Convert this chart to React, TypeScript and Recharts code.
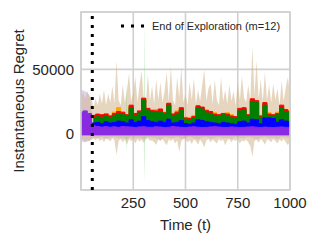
import { ComposedChart, Area, XAxis, YAxis, CartesianGrid, ReferenceLine, ReferenceArea } from 'recharts';

// time grid (coarse) used by the mean curves
const T20 = [0, 20, 40, 60, 80, 100, 120, 140, 160, 180, 200, 220, 240, 260, 280, 300, 320, 340, 360, 380, 400, 420, 440, 460, 480, 500, 520, 540, 560, 580, 600, 620, 640, 660, 680, 700, 720, 740, 760, 780, 800, 820, 840, 860, 880, 900, 920, 940, 960, 980, 1000];

// fine grid used by the noisy runs
const T10 = [0, 10, 20, 30, 40, 50, 60, 70, 80, 90, 100, 110, 120, 130, 140, 150, 160, 170, 180, 190, 200, 210, 220, 230, 240, 250, 260, 270, 280, 290, 300, 310, 320, 330, 340, 350, 360, 370, 380, 390, 400, 410, 420, 430, 440, 450, 460, 470, 480, 490, 500, 510, 520, 530, 540, 550, 560, 570, 580, 590, 600, 610, 620, 630, 640, 650, 660, 670, 680, 690, 700, 710, 720, 730, 740, 750, 760, 770, 780, 790, 800, 810, 820, 830, 840, 850, 860, 870, 880, 890, 900, 910, 920, 930, 940, 950, 960, 970, 980, 990, 1000];

const ORANGE = [null, null, null, 13000, 14000, 13500, 15500, 14000, 16500, 20000, 15500, 14000, 21000, 15000, 16500, 27000, 18500, 17500, 18500, 17500, 16500, 22500, 15500, 17500, 19000, 12500, 12500, 14000, 20500, 19500, 17000, 16500, 16000, 14000, 15000, 16000, 14500, 12500, 18000, 19000, 14000, 26000, 24500, 14000, 23000, 16000, 14000, 16500, 21000, 18000, 18000];
const RED = [null, null, null, 14000, 15000, 14500, 15000, 13500, 15500, 17000, 16500, 14500, 22000, 15500, 17500, 27500, 19500, 18000, 17500, 19000, 16000, 23500, 15000, 16500, 20000, 12000, 11500, 13000, 21500, 20500, 18000, 17000, 15000, 14500, 15500, 15000, 13500, 13000, 19500, 20000, 14500, 27000, 25500, 13500, 24000, 15000, 14500, 15500, 22000, 18500, 17000];
const GREEN = [null, null, null, 12000, 13000, 12500, 13500, 12000, 14000, 15500, 14500, 13500, 20000, 14000, 16000, 26000, 18000, 17000, 16500, 17000, 15000, 22000, 14000, 14500, 18000, 11000, 10500, 12000, 20000, 19000, 16000, 15500, 14000, 13500, 14500, 14000, 12500, 12000, 17500, 18500, 13500, 25000, 24000, 12500, 22000, 14000, 13500, 14500, 20000, 17000, 16000];
const BLUE = [9000, 10000, 8000, 8000, 8500, 7500, 9000, 8000, 8500, 9500, 9000, 8000, 10500, 8500, 9500, 13000, 10000, 9000, 8500, 9500, 8500, 11000, 8000, 8500, 10000, 7500, 7000, 8000, 10500, 10000, 9000, 8500, 8000, 7500, 8500, 8000, 7500, 7000, 9000, 9500, 8000, 11000, 10500, 7500, 12000, 12000, 11500, 8500, 10500, 9500, 9000];
const PURPLE = [16500, 17500, 15500, 5800, 5200, 4800, 5100, 4700, 5000, 4600, 5200, 5000, 4800, 4500, 4900, 5100, 4700, 4600, 5000, 4800, 4500, 4700, 5200, 4900, 4600, 4400, 4800, 5000, 4700, 4500, 4600, 4900, 5100, 4800, 4600, 4500, 4900, 4700, 4400, 4600, 4800, 5000, 4700, 4500, 4800, 4600, 4400, 4700, 4900, 4600, 4500];
const PURPLE_LO = -1300;

const LAV_HI = [34000, 33000, 30000, 11000, 10000, 9500, 10500, 10000, 11000, 10500, 9500, 10000, 12000, 10500, 11000, 14000, 11500, 11000, 10500, 11000, 10000, 12500, 10000, 10500, 11500, 9500, 9000, 10000, 12000, 11500, 10500, 10000, 9500, 9000, 10000, 9500, 9000, 8500, 11000, 11500, 9500, 12500, 13000, 12000, 9500, 11000, 10500, 10000, 11000, 10000, 9500];
const LAV_LO = [-6500, -7000, -6000, -3500, -4000, -3000, -4500, -3500, -3000, -4000, -3500, -5000, -3000, -4000, -3500, -4500, -3000, -3500, -4000, -5500, -3000, -3500, -4000, -3000, -4500, -3500, -3000, -4000, -5000, -3500, -3000, -4500, -3500, -3000, -4000, -3500, -4500, -3000, -3500, -4000, -3000, -3500, -5000, -3500, -3000, -4000, -3500, -4500, -3000, -3500, -4000];

const TAN_HI = [
  30000, 32000, 27000, 33000, 29000, 28000, 20000, 27000, 22000, 31000,
  23000, 34000, 22000, 31000, 24000, 37000, 23000, 57000, 26000, 22000,
  38000, 24000, 34000, 47000, 25000, 32000, 44000, 24000, 38000, 49000,
  27000, 23000, 46000, 25000, 37000, 23000, 42000, 26000, 40000, 24000,
  33000, 48000, 25000, 52000, 26000, 22000, 44000, 28000, 52000, 24000,
  31000, 22000, 40000, 26000, 43000, 23000, 34000, 25000, 38000, 50000,
  25000, 35000, 39000, 23000, 42000, 26000, 22000, 44000, 25000, 34000,
  23000, 38000, 25000, 33000, 22000, 40000, 26000, 45000, 28000, 24000,
  38000, 26000, 68000, 30000, 57000, 27000, 42000, 25000, 48000, 26000,
  38000, 24000, 39000, 26000, 35000, 22000, 41000, 25000, 36000, 44000,
  30000,
];
const TAN_LO = [
  -6000, -5000, -7000, -5500, -6000, -5000, -4000, -5500, -3500, -6000,
  -4500, -7000, -4000, -5000, -6500, -4000, -5500, -17000, -6000, -4500,
  -7000, -5000, -9000, -4500, -6000, -5000, -8000, -4500, -6500, -5000,
  -7500, -5000, -4000, -6000, -5500, -7000, -9000, -5000, -6000, -4500,
  -7000, -9500, -5000, -6000, -4500, -8000, -5500, -14500, -6000, -4500,
  -5000, -7000, -5500, -8500, -5000, -6000, -9000, -5000, -7500, -11000,
  -5500, -4500, -7000, -5000, -6500, -8000, -4500, -6000, -5000, -9500,
  -5500, -4500, -7000, -5000, -6000, -4500, -8000, -5500, -6500, -5000,
  -7000, -10000, -18500, -6000, -5000, -7500, -4500, -6000, -9000, -5000,
  -5500, -7000, -4500, -6000, -8000, -5000, -6500, -4500, -7000, -9500,
  -6000,
];

// faint green std band with two outliers
const GSPIKE_T = [215, 218, 221, 300, 303, 306];
const GSPIKE_HI = [12000, 39000, 12000, 12000, 89000, 12000];
const GSPIKE_LO = [3000, -15000, 3000, 3000, -39000, 3000];

const EXPLORATION_END = 54;
const X_TICKS = [250, 500, 750, 1000];
const Y_TICKS = [0, 50000];
const Y_DOMAIN: [number, number] = [-44500, 95000];

const rows = T10.map((t, j) => {
  const i = j / 2;
  const row: Record<string, any> = { t, tan: [TAN_LO[j], TAN_HI[j]] };
  if (j % 2 === 0) {
    row.orange = ORANGE[i];
    row.red = RED[i];
    row.green = GREEN[i];
    row.blue = BLUE[i];
    row.purple = [PURPLE_LO, PURPLE[i]];
    row.lav = [LAV_LO[i], LAV_HI[i]];
  }
  return row;
});
const greenBand = GSPIKE_T.map((t, i) => ({ t, band: [GSPIKE_LO[i], GSPIKE_HI[i]] }));

const FONT = 'Liberation Sans, Arial, sans-serif';
const INK = '#262626';
const GRID = '#d0d0d0';

export default function App() {
  return (
    <div style={{ position: 'absolute', left: 0, top: 0, width: 319, height: 243, fontFamily: FONT }}>
      <ComposedChart width={319} height={243} data={rows} margin={{ top: 12, right: 29, left: 0, bottom: 0 }}>
        <CartesianGrid stroke={GRID} strokeWidth={1.6} />
        <XAxis
          dataKey="t"
          type="number"
          domain={[0, 1000]}
          ticks={X_TICKS}
          allowDataOverflow
          axisLine={false}
          tickLine={false}
          tickSize={0}
          tickMargin={7}
          height={53}
          tick={{ fill: INK, fontSize: 15, fontFamily: FONT }}
          label={{ value: 'Time (t)', position: 'center', dy: 8, fill: INK, fontSize: 15, fontFamily: FONT }}
        />
        <YAxis
          type="number"
          domain={Y_DOMAIN}
          ticks={Y_TICKS}
          allowDataOverflow
          axisLine={false}
          tickLine={false}
          tickSize={0}
          tickMargin={7}
          width={81}
          tick={{ fill: INK, fontSize: 15, fontFamily: FONT }}
          label={{ value: 'Instantaneous Regret', angle: -90, position: 'center', dx: -22, fill: INK, fontSize: 15, fontFamily: FONT }}
        />
        <Area dataKey="lav" type="linear" connectNulls stroke="none" fill="#9370db" fillOpacity={0.3} isAnimationActive={false} />
        <Area dataKey="tan" type="linear" stroke="none" fill="#d2b48c" fillOpacity={0.55} isAnimationActive={false} />
        <Area data={greenBand} dataKey="band" type="linear" stroke="none" fill="#8fd68f" fillOpacity={0.5} isAnimationActive={false} />
        <Area dataKey="orange" type="step" connectNulls stroke="#ffa500" strokeWidth={1} fill="#ffa500" fillOpacity={1} isAnimationActive={false} />
        <Area dataKey="red" type="step" connectNulls stroke="#ff0000" strokeWidth={1} fill="#ff0000" fillOpacity={1} isAnimationActive={false} />
        <Area dataKey="green" type="step" connectNulls stroke="#008000" strokeWidth={1} fill="#008000" fillOpacity={1} isAnimationActive={false} />
        <Area dataKey="blue" type="step" connectNulls stroke="#0000ff" strokeWidth={1} fill="#0000ff" fillOpacity={1} isAnimationActive={false} />
        <Area dataKey="purple" type="step" connectNulls stroke="#8a2be2" strokeWidth={1} fill="#8a2be2" fillOpacity={1} isAnimationActive={false} />
        <ReferenceLine x={EXPLORATION_END} stroke="#000" strokeWidth={3} strokeDasharray="3 6" />
        <ReferenceArea x1={0} x2={1000} y1={Y_DOMAIN[0]} y2={Y_DOMAIN[1]} fill="none" stroke={GRID} strokeWidth={1.6} />
      </ComposedChart>
      <div style={{ position: 'absolute', left: 120, top: 20, display: 'flex', alignItems: 'center', fontSize: 11, lineHeight: '12px', color: INK }}>
        <svg width={26} height={6} style={{ marginRight: 6 }}>
          <line x1={1} y1={3} x2={26} y2={3} stroke="#000" strokeWidth={3} strokeDasharray="3 7" />
        </svg>
        <span>End of Exploration (m=12)</span>
      </div>
    </div>
  );
}
